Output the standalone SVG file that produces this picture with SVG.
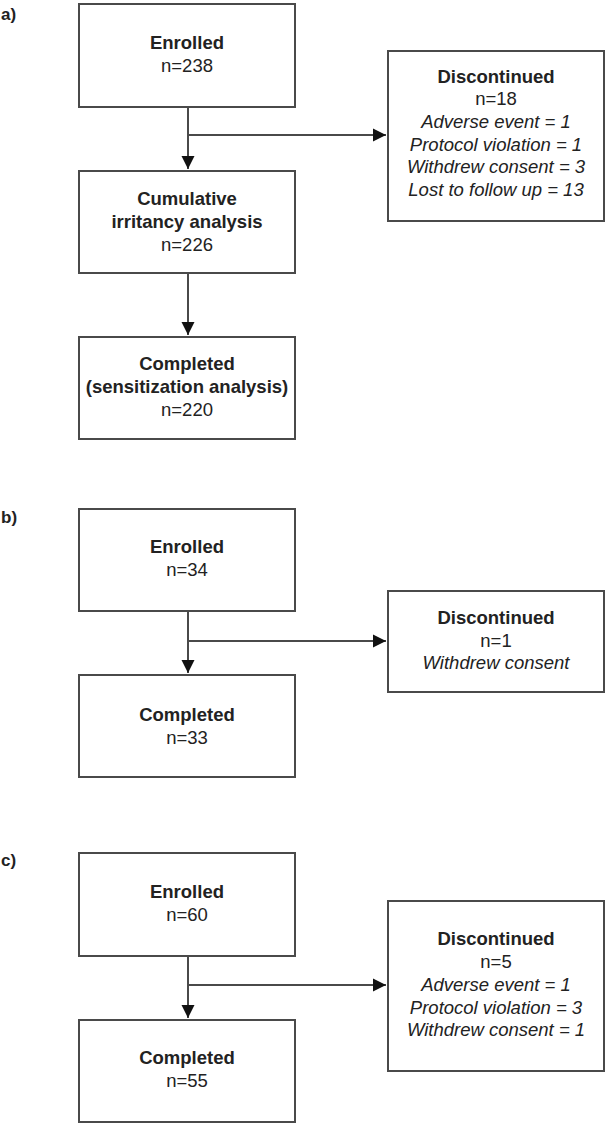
<svg xmlns="http://www.w3.org/2000/svg" width="606" height="1124" viewBox="0 0 606 1124">
<style>
.box{fill:#ffffff;stroke:#4a4a4a;stroke-width:2}
.ln{fill:none;stroke:#4a4a4a;stroke-width:2}
text{font-family:"Liberation Sans",Arial,sans-serif;font-size:18.5px;fill:#222222;text-anchor:middle}
.b{font-weight:bold}
.i{font-style:italic}
.lbl{text-anchor:start;font-weight:bold;font-size:17px}
</style>
<defs>
<marker id="arr" markerUnits="userSpaceOnUse" markerWidth="14" markerHeight="14" refX="13" refY="7" orient="auto">
<path d="M0,0.5 L13,7 L0,13.5 Z" fill="#111111"/>
</marker>
</defs>
<rect width="606" height="1124" fill="#ffffff"/>
<text class="lbl" x="1" y="20">a)</text>
<text class="lbl" x="1" y="523">b)</text>
<text class="lbl" x="1" y="866">c)</text>
<g id="connectors">
<line class="ln" x1="188" y1="107" x2="188" y2="169" marker-end="url(#arr)"/>
<line class="ln" x1="188" y1="135" x2="386" y2="135" marker-end="url(#arr)"/>
<line class="ln" x1="188" y1="273" x2="188" y2="335" marker-end="url(#arr)"/>
<line class="ln" x1="188" y1="611" x2="188" y2="673" marker-end="url(#arr)"/>
<line class="ln" x1="188" y1="641" x2="386" y2="641" marker-end="url(#arr)"/>
<line class="ln" x1="188" y1="956" x2="188" y2="1018" marker-end="url(#arr)"/>
<line class="ln" x1="188" y1="985" x2="386" y2="985" marker-end="url(#arr)"/>
</g>
<g id="a-enrolled">
<rect class="box" x="79" y="4" width="216" height="103"/>
<text class="b" x="187" y="49">Enrolled</text>
<text x="187" y="72">n=238</text>
</g>
<g id="a-discontinued">
<rect class="box" x="388" y="51" width="216" height="170"/>
<text class="b" x="496" y="83">Discontinued</text>
<text x="496" y="105">n=18</text>
<text class="i" x="496" y="128">Adverse event = 1</text>
<text class="i" x="496" y="151">Protocol violation = 1</text>
<text class="i" x="496" y="173">Withdrew consent = 3</text>
<text class="i" x="496" y="196">Lost to follow up = 13</text>
</g>
<g id="a-cumulative">
<rect class="box" x="79" y="171" width="216" height="102"/>
<text class="b" x="187" y="205">Cumulative</text>
<text class="b" x="187" y="228">irritancy analysis</text>
<text x="187" y="251">n=226</text>
</g>
<g id="a-completed">
<rect class="box" x="79" y="337" width="216" height="102"/>
<text class="b" x="187" y="370">Completed</text>
<text class="b" x="187" y="393">(sensitization analysis)</text>
<text x="187" y="416">n=220</text>
</g>
<g id="b-enrolled">
<rect class="box" x="79" y="509" width="216" height="102"/>
<text class="b" x="187" y="553">Enrolled</text>
<text x="187" y="576">n=34</text>
</g>
<g id="b-discontinued">
<rect class="box" x="388" y="591" width="216" height="101"/>
<text class="b" x="496" y="624">Discontinued</text>
<text x="496" y="647">n=1</text>
<text class="i" x="496" y="669">Withdrew consent</text>
</g>
<g id="b-completed">
<rect class="box" x="79" y="675" width="216" height="102"/>
<text class="b" x="187" y="721">Completed</text>
<text x="187" y="744">n=33</text>
</g>
<g id="c-enrolled">
<rect class="box" x="79" y="853" width="216" height="103"/>
<text class="b" x="187" y="898">Enrolled</text>
<text x="187" y="921">n=60</text>
</g>
<g id="c-discontinued">
<rect class="box" x="388" y="901" width="216" height="170"/>
<text class="b" x="496" y="945">Discontinued</text>
<text x="496" y="968">n=5</text>
<text class="i" x="496" y="991">Adverse event = 1</text>
<text class="i" x="496" y="1014">Protocol violation = 3</text>
<text class="i" x="496" y="1036">Withdrew consent = 1</text>
</g>
<g id="c-completed">
<rect class="box" x="79" y="1020" width="216" height="102"/>
<text class="b" x="187" y="1064">Completed</text>
<text x="187" y="1087">n=55</text>
</g>
</svg>
